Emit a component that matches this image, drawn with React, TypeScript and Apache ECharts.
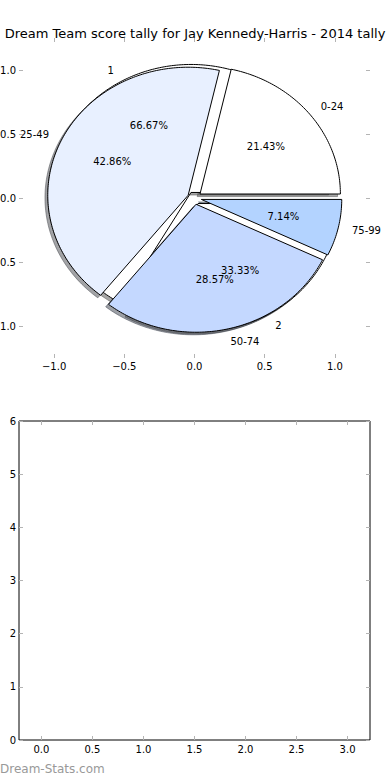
import React, { useEffect, useRef } from "react";
import * as echarts from "echarts";

const titleText = "Dream Team score tally for Jay Kennedy-Harris - 2014 tally";
const tallyLabels = ["0-24", "25-49", "50-74", "75-99"];
const tallyValues = [3, 6, 4, 1];
const tallyColors = ["#ffffff", "#e8f0ff", "#c4d8ff", "#b3d3ff"];
const countLabels = ["1", "2"];
const countValues = [2, 1];
const countColors = ["#ffffff", "#ffffff"];
const explode = 0.05;
const pieTicks = [-1, -0.5, 0, 0.5, 1];
const barXTicks = [0, 0.5, 1, 1.5, 2, 2.5, 3];
const barYTicks = [0, 1, 2, 3, 4, 5, 6];
const watermark = "Dream-Stats.com";

const FONT = "DejaVu Sans";
const TICK_COLOR = "#b4b4b4";

type Wedge = {
  t1: number;
  t2: number;
  cx: number;
  cy: number;
  mid: number;
  color: string;
  label: string;
  pct: string;
};

function buildWedges(values: number[], labels: string[], colors: string[]): Wedge[] {
  const total = values.reduce((a, b) => a + b, 0);
  let acc = 0;
  return values.map((v, i) => {
    const t1 = (acc / total) * 360;
    acc += v;
    const t2 = (acc / total) * 360;
    const mid = (((t1 + t2) / 2) * Math.PI) / 180;
    return {
      t1,
      t2,
      mid,
      cx: explode * Math.cos(mid),
      cy: explode * Math.sin(mid),
      color: colors[i],
      label: labels[i],
      pct: ((v / total) * 100).toFixed(2) + "%",
    };
  });
}

function shade(hex: string): string {
  const n = parseInt(hex.slice(1), 16);
  const r = Math.round(((n >> 16) & 255) * 0.3);
  const g = Math.round(((n >> 8) & 255) * 0.3);
  const b = Math.round((n & 255) * 0.3);
  return `rgba(${r},${g},${b},0.5)`;
}

const fmtSigned = (v: number) => (v < 0 ? "\u2212" : "") + Math.abs(v).toFixed(1);

export default function App() {
  const ref = useRef<HTMLDivElement>(null);
  useEffect(() => {
    if (!ref.current) return;
    const chart = echarts.init(ref.current, null, { renderer: "svg" });
    const countWedges = buildWedges(countValues, countLabels, countColors);
    const tallyWedges = buildWedges(tallyValues, tallyLabels, tallyColors);
    const allWedges = [...countWedges, ...tallyWedges];

    const wedgeRender = (list: Wedge[], shadow: boolean) => (params: any, api: any) => {
      const w = list[params.dataIndex];
      const dx = shadow ? -0.02 : 0;
      const dy = shadow ? -0.02 : 0;
      const pts: number[][] = [api.coord([w.cx + dx, w.cy + dy])];
      const n = Math.max(8, Math.ceil(w.t2 - w.t1));
      for (let k = 0; k <= n; k++) {
        const t = ((w.t1 + ((w.t2 - w.t1) * k) / n) * Math.PI) / 180;
        pts.push(api.coord([w.cx + Math.cos(t) + dx, w.cy + Math.sin(t) + dy]));
      }
      const col = shadow ? shade(w.color) : w.color;
      return {
        type: "polygon",
        shape: { points: pts },
        style: {
          fill: col,
          stroke: shadow ? col : "#000",
          lineWidth: 1,
        },
      };
    };

    type Lbl = { x: number; y: number; text: string; align: string };
    const labels: Lbl[] = [];
    [countWedges, tallyWedges].forEach((list) => {
      list.forEach((w) => {
        const lx = w.cx + 1.1 * Math.cos(w.mid);
        const ly = w.cy + 1.1 * Math.sin(w.mid);
        labels.push({ x: lx, y: ly, text: w.label, align: lx > 0 ? "left" : "right" });
      });
    });
    [countWedges, tallyWedges].forEach((list) => {
      list.forEach((w) => {
        labels.push({
          x: w.cx + 0.6 * Math.cos(w.mid),
          y: w.cy + 0.6 * Math.sin(w.mid),
          text: w.pct,
          align: "center",
        });
      });
    });

    const tickStyle = { show: true, inside: true, length: 4, lineStyle: { color: TICK_COLOR, width: 1 } };
    const labelStyle = { color: "#000", fontSize: 10, fontFamily: FONT };
    const noLine = { show: false, onZero: false };

    chart.setOption({
      animation: false,
      backgroundColor: "#fff",
      title: {
        text: titleText,
        left: "center",
        top: 22,
        textStyle: { fontSize: 13, fontWeight: "normal", fontFamily: FONT, color: "#000" },
      },
      grid: [
        { left: 19, top: 38, width: 351, height: 320, show: false, outerBoundsMode: "none", containLabel: false },
        { left: 19, top: 421, width: 351, height: 319, show: true, borderColor: "#000", borderWidth: 1, backgroundColor: "transparent", outerBoundsMode: "none", containLabel: false },
      ],
      xAxis: [
        {
          gridIndex: 0, type: "value", min: -1.25, max: 1.25, position: "bottom",
          axisLine: noLine, splitLine: { show: false },
          axisTick: { ...tickStyle, customValues: pieTicks },
          axisLabel: { ...labelStyle, customValues: pieTicks, formatter: fmtSigned, margin: 3 },
        },
        {
          gridIndex: 0, type: "value", min: -1.25, max: 1.25, position: "top",
          axisLine: noLine, splitLine: { show: false },
          axisTick: { ...tickStyle, customValues: pieTicks },
          axisLabel: { show: false },
        },
        {
          gridIndex: 1, type: "value", min: -0.22, max: 3.22, position: "bottom",
          axisLine: noLine, splitLine: { show: false },
          axisTick: { ...tickStyle, customValues: barXTicks },
          axisLabel: { ...labelStyle, customValues: barXTicks, formatter: (v: number) => v.toFixed(1), margin: 4 },
        },
        {
          gridIndex: 1, type: "value", min: -0.22, max: 3.22, position: "top",
          axisLine: noLine, splitLine: { show: false },
          axisTick: { ...tickStyle, customValues: barXTicks },
          axisLabel: { show: false },
        },
      ],
      yAxis: [
        {
          gridIndex: 0, type: "value", min: -1.25, max: 1.25, position: "left",
          axisLine: noLine, splitLine: { show: false },
          axisTick: { ...tickStyle, customValues: pieTicks },
          axisLabel: { ...labelStyle, customValues: pieTicks, formatter: fmtSigned, margin: 3 },
        },
        {
          gridIndex: 0, type: "value", min: -1.25, max: 1.25, position: "right",
          axisLine: noLine, splitLine: { show: false },
          axisTick: { ...tickStyle, customValues: pieTicks },
          axisLabel: { show: false },
        },
        {
          gridIndex: 1, type: "value", min: 0, max: 6, interval: 1, position: "left",
          axisLine: noLine, splitLine: { show: false },
          axisTick: { ...tickStyle, customValues: barYTicks },
          axisLabel: { ...labelStyle, customValues: barYTicks, formatter: (v: number) => String(v), margin: 3 },
        },
        {
          gridIndex: 1, type: "value", min: 0, max: 6, interval: 1, position: "right",
          axisLine: noLine, splitLine: { show: false },
          axisTick: { ...tickStyle, customValues: barYTicks },
          axisLabel: { show: false },
        },
      ],
      series: [
        {
          type: "custom", name: "shadows", xAxisIndex: 0, yAxisIndex: 0, z: 1, silent: true,
          data: allWedges.map((w) => [w.cx, w.cy]),
          renderItem: wedgeRender(allWedges, true),
        },
        {
          type: "custom", name: "count", xAxisIndex: 0, yAxisIndex: 0, z: 2, silent: true,
          data: countWedges.map((w) => [w.cx, w.cy]),
          renderItem: wedgeRender(countWedges, false),
        },
        {
          type: "custom", name: "tally", xAxisIndex: 0, yAxisIndex: 0, z: 3, silent: true,
          data: tallyWedges.map((w) => [w.cx, w.cy]),
          renderItem: wedgeRender(tallyWedges, false),
        },
        {
          type: "custom", name: "labels", xAxisIndex: 0, yAxisIndex: 0, z: 4, silent: true,
          data: labels.map((l) => [l.x, l.y]),
          renderItem: (params: any, api: any) => {
            const l = labels[params.dataIndex];
            const p = api.coord([l.x, l.y]);
            return {
              type: "text",
              x: p[0],
              y: p[1],
              style: {
                text: l.text,
                fill: "#000",
                fontSize: 10,
                fontFamily: FONT,
                align: l.align,
                verticalAlign: "middle",
              },
            };
          },
        },
      ],
      graphic: [
        {
          type: "text",
          left: 0,
          top: 763,
          style: { text: watermark, fill: "#999", fontSize: 12, fontFamily: FONT },
        },
      ],
    });
    return () => chart.dispose();
  }, []);
  return (
    <div
      ref={ref}
      style={{ position: "fixed", left: 0, top: 0, width: 390, height: 780, background: "#fff" }}
    />
  );
}
